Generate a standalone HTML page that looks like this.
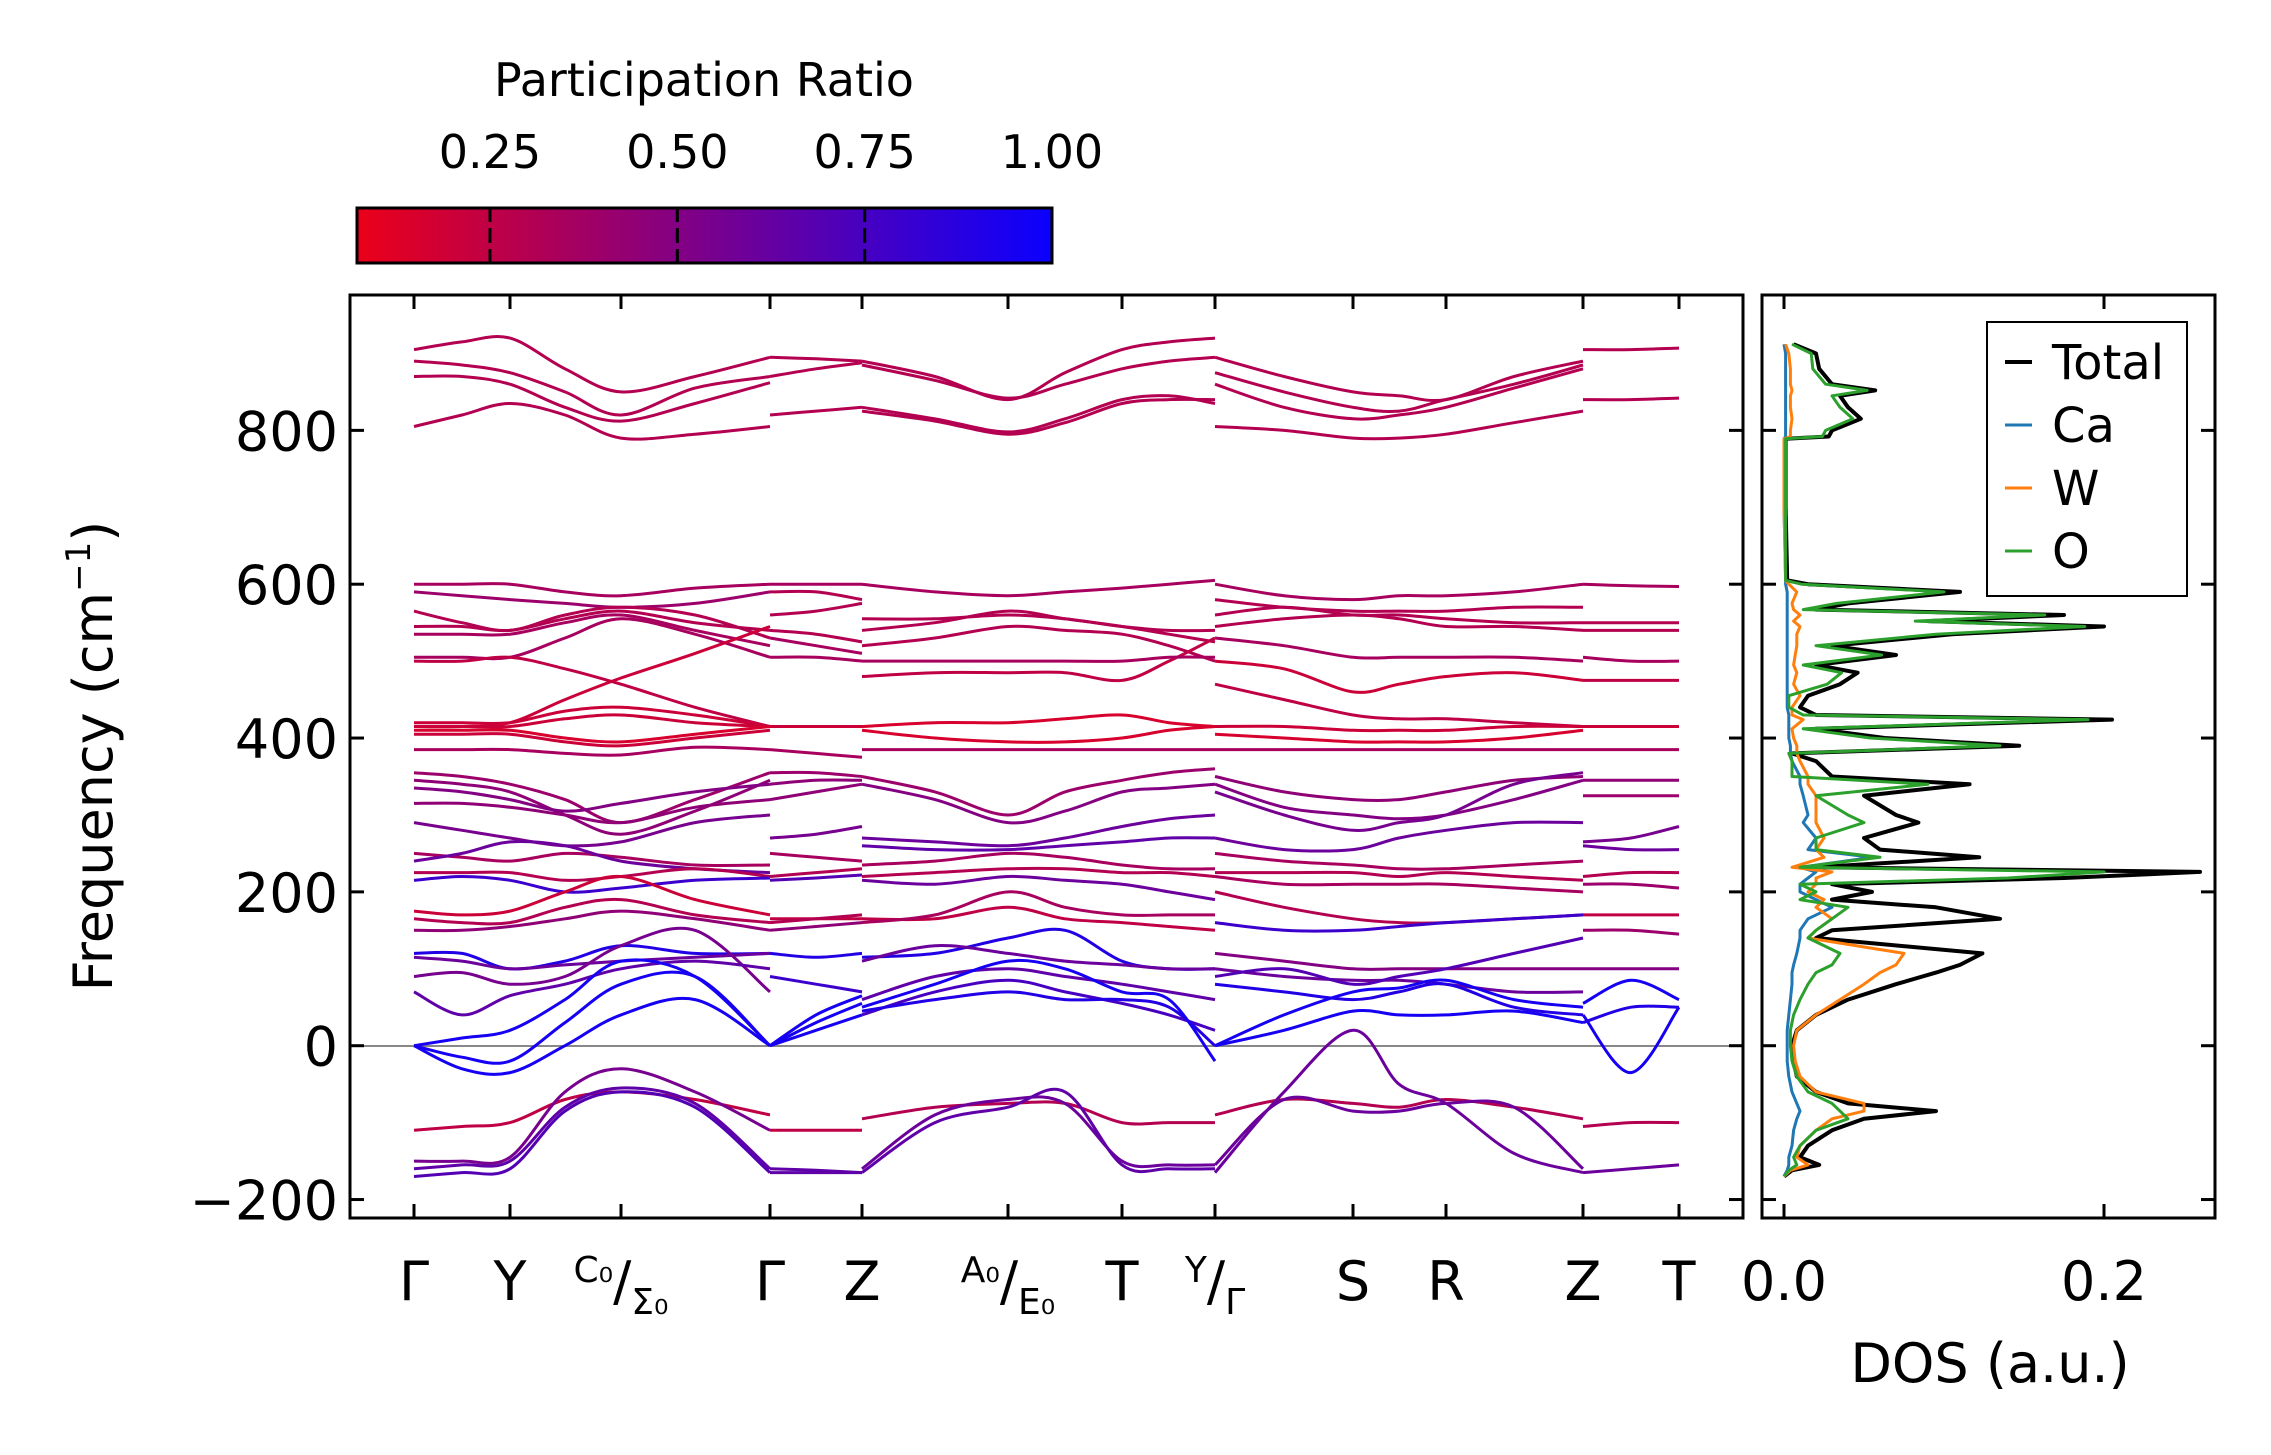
<!DOCTYPE html>
<html><head><meta charset="utf-8">
<style>
html,body{margin:0;padding:0;background:#fff;}
svg{display:block;font-family:"DejaVu Sans","Liberation Sans",sans-serif;}
</style></head>
<body>
<svg id="chart" width="2271" height="1455" viewBox="0 0 2271 1455" xmlns="http://www.w3.org/2000/svg">
  <defs>
    <linearGradient id="cbgrad" x1="0" x2="1" y1="0" y2="0">
      <stop offset="0" stop-color="rgb(235,0,25)"/>
      <stop offset="1" stop-color="rgb(10,0,255)"/>
    </linearGradient>
    <clipPath id="mainclip"><rect x="350" y="295" width="1393" height="923"/></clipPath>
    <clipPath id="dosclip"><rect x="1762" y="295" width="453" height="923"/></clipPath>
  </defs>
  <g id="colorbar">
    <text x="704" y="96" font-size="46" text-anchor="middle">Participation Ratio</text>
    <rect x="357" y="208" width="695" height="55" fill="url(#cbgrad)" stroke="#000" stroke-width="3"/>
    <g id="cbticks"></g>
  </g>
  <g id="main">
    <line x1="350" x2="1743" y1="1046" y2="1046" stroke="#888" stroke-width="2"/>
    <g id="bands" clip-path="url(#mainclip)"></g>
    <rect x="350" y="295" width="1393" height="923" fill="none" stroke="#000" stroke-width="3"/>
    <g id="mainticks"></g>
    <text transform="translate(112,756) rotate(-90)" font-size="54" text-anchor="middle">Frequency (cm<tspan font-size="34" dy="-22">−1</tspan><tspan dy="22">)</tspan></text>
  </g>
  <g id="dos">
    <g id="doslines" clip-path="url(#dosclip)"></g>
    <rect x="1762" y="295" width="453" height="923" fill="none" stroke="#000" stroke-width="3"/>
    <g id="dosticks"></g>
    <text x="1990" y="1382" font-size="54" text-anchor="middle">DOS (a.u.)</text>
    <g>
      <rect x="1987" y="322" width="200" height="274" fill="#fff" stroke="#000" stroke-width="2"/>
      <g id="legend"></g>
    </g>
  </g>
</svg>
<script>
// ---- axes ----
const yMin = -224, yMax = 976;
const kMin = -0.64, kMax = 13.29;
const yTicks = [-200, 0, 200, 400, 600, 800];
const yTickLabels = ["\u2212200", "0", "200", "400", "600", "800"];
const kTickPos = [0, 0.96, 2.07, 3.56, 4.48, 5.94, 7.08, 8.01, 9.39, 10.32, 11.69, 12.65];
const kTickLabels = [["Γ"], ["Y"], ["C₀","Σ₀"], ["Γ"], ["Z"], ["A₀","E₀"], ["T"], ["Y","Γ"], ["S"], ["R"], ["Z"], ["T"]];
const cbMin = 0.0725, cbMax = 1.0;
const cbTicks = [0.25, 0.5, 0.75, 1.0];
const cbTickLabels = ["0.25", "0.50", "0.75", "1.00"];
const dosTicks = [0, 0.2];
const dosTickLabels = ["0.0", "0.2"];

// ---- band data: sections of k-samples, each band = [participationRatio, freqs...] ----
const secA_k = [0, 0.48, 0.96, 1.51, 2.07, 2.81, 3.56];
const secA = [
 [0.3, 905,915,920,880,850,870,895],
 [0.3, 890,885,875,850,820,855,870],
 [0.3, 870,870,860,830,812,835,862],
 [0.3, 805,820,835,820,790,795,805],
 [0.35, 600,600,600,590,585,595,600],
 [0.4, 590,585,580,575,570,575,590],
 [0.3, 565,550,540,560,570,560,530],
 [0.3, 545,545,540,555,565,550,540],
 [0.35, 535,535,535,550,560,540,520],
 [0.35, 505,505,505,530,555,535,505],
 [0.25, 500,500,505,490,470,440,415],
 [0.2, 415,415,420,450,478,510,545],
 [0.2, 420,420,420,435,440,430,415],
 [0.2, 415,415,415,425,430,420,415],
 [0.15, 410,410,410,400,395,405,415],
 [0.2, 405,405,405,395,390,400,410],
 [0.35, 385,385,385,380,378,388,385],
 [0.4, 355,350,340,320,290,320,355],
 [0.45, 345,340,330,300,275,305,345],
 [0.5, 335,330,320,305,315,330,340],
 [0.45, 315,315,310,300,290,310,320],
 [0.55, 290,280,270,260,265,290,300],
 [0.35, 250,245,240,250,245,235,235],
 [0.6, 240,250,265,260,240,230,225],
 [0.3, 225,225,225,215,220,230,220],
 [0.8, 215,220,215,200,205,215,218],
 [0.2, 175,170,175,200,220,190,170],
 [0.3, 165,160,160,180,190,170,160],
 [0.45, 150,150,155,165,175,165,150],
 [0.9, 120,120,100,110,130,120,120],
 [0.6, 115,110,100,105,110,115,120],
 [0.55, 90,95,80,90,130,150,70],
 [0.65, 70,40,65,80,100,110,100],
 [0.95, 0,10,20,60,110,90,0],
 [0.95, 0,-15,-20,30,80,90,0],
 [0.95, 0,-30,-35,0,40,60,0],
 [0.25, -110,-105,-100,-70,-60,-70,-90],
 [0.55, -150,-150,-145,-60,-30,-60,-110],
 [0.65, -160,-155,-150,-80,-55,-75,-160],
 [0.7, -170,-165,-160,-85,-60,-80,-165]
];
const secB_k = [3.56, 4.02, 4.48];
const secB = [
 [0.3, 895,893,890],[0.3, 870,880,888],[0.3, 820,825,830],
 [0.35, 600,600,600],[0.3, 590,590,580],[0.3, 560,565,575],
 [0.3, 540,535,525],[0.35, 530,520,510],[0.35, 505,505,500],
 [0.2, 415,415,415],[0.35, 385,380,375],[0.4, 355,355,350],
 [0.45, 340,345,345],[0.45, 320,330,340],[0.55, 270,275,285],
 [0.35, 250,245,240],[0.3, 220,225,230],[0.7, 215,218,222],
 [0.25, 165,165,165],[0.3, 160,165,170],[0.45, 150,155,160],
 [0.9, 120,115,120],[0.8, 90,80,70],
 [0.95, 0,20,40],[0.95, 0,30,55],[0.95, 0,40,65],
 [0.25, -110,-110,-110],[0.65, -165,-165,-165],[0.65, -160,-162,-165]
];
const secC_k = [4.48, 5.21, 5.94, 6.51, 7.08, 7.55, 8.01];
const secC = [
 [0.3, 890,870,840,875,905,915,920],
 [0.3, 885,865,842,860,880,890,895],
 [0.3, 830,815,798,815,840,845,835],
 [0.3, 825,812,795,810,835,840,840],
 [0.35, 600,590,585,590,595,600,605],
 [0.3, 555,555,560,555,545,540,540],
 [0.3, 540,550,565,555,545,535,525],
 [0.3, 520,530,545,540,535,520,500],
 [0.25, 480,485,485,485,475,500,530],
 [0.35, 500,500,500,500,500,505,505],
 [0.15, 415,420,420,425,430,420,415],
 [0.15, 410,400,395,395,400,410,415],
 [0.35, 385,385,385,385,385,385,385],
 [0.4, 350,330,300,330,345,355,360],
 [0.5, 340,320,290,305,330,335,340],
 [0.6, 270,265,260,270,285,295,300],
 [0.65, 260,255,255,260,265,270,270],
 [0.35, 235,240,250,245,235,230,230],
 [0.3, 220,225,230,230,225,225,220],
 [0.6, 215,210,220,215,210,200,190],
 [0.25, 165,165,180,165,160,155,150],
 [0.35, 160,170,200,180,170,170,170],
 [0.9, 115,120,140,150,110,100,100],
 [0.6, 110,130,120,110,105,100,100],
 [0.65, 60,90,100,90,80,70,60],
 [0.75, 40,70,85,70,55,40,20],
 [0.9, 45,60,70,60,60,50,0],
 [0.95, 50,80,110,100,70,60,-20],
 [0.3, -95,-80,-75,-75,-100,-100,-100],
 [0.6, -160,-90,-70,-75,-150,-155,-155],
 [0.65, -165,-100,-80,-60,-155,-160,-160]
];
const secD_k = [8.01, 8.70, 9.39, 9.85, 10.32, 11.0, 11.69];
const secD = [
 [0.3, 895,870,850,845,840,870,890],
 [0.3, 875,850,830,825,840,860,885],
 [0.3, 860,830,815,820,830,855,880],
 [0.3, 805,800,790,790,795,810,825],
 [0.35, 600,585,580,585,585,590,600],
 [0.3, 580,570,565,565,565,570,570],
 [0.3, 560,570,560,560,555,550,550],
 [0.3, 545,555,560,555,545,545,540],
 [0.35, 530,520,505,505,505,505,500],
 [0.2, 500,490,460,470,480,485,475],
 [0.25, 470,450,430,425,425,420,415],
 [0.2, 415,415,410,410,410,415,415],
 [0.15, 405,400,395,395,395,400,410],
 [0.35, 385,385,385,385,385,385,385],
 [0.45, 350,330,320,320,330,345,350],
 [0.5, 340,310,300,295,300,320,345],
 [0.55, 330,300,280,290,300,340,355],
 [0.6, 270,255,255,270,280,290,290],
 [0.35, 250,240,235,230,230,235,240],
 [0.3, 225,225,225,220,225,220,215],
 [0.35, 220,210,210,210,210,205,200],
 [0.3, 200,180,165,160,160,165,170],
 [0.8, 160,150,150,155,160,165,170],
 [0.5, 120,110,100,100,100,100,100],
 [0.6, 100,90,85,85,80,70,70],
 [0.7, 90,100,80,90,100,120,140],
 [0.9, 80,70,60,70,80,50,40],
 [0.95, 0,40,70,75,85,60,50],
 [0.95, 0,20,45,40,40,45,30],
 [0.3, -90,-70,-75,-80,-70,-80,-95],
 [0.6, -155,-70,-85,-85,-75,-80,-160],
 [0.6, -165,-60,20,-50,-75,-140,-165]
];
const secE_k = [11.69, 12.17, 12.65];
const secE = [
 [0.3, 905,905,907],[0.3, 840,840,842],[0.35, 600,598,597],
 [0.3, 550,550,550],[0.3, 540,540,540],[0.35, 505,500,500],
 [0.25, 475,475,475],[0.2, 415,415,415],[0.35, 385,385,385],
 [0.45, 345,345,345],[0.4, 325,325,325],[0.55, 265,270,285],
 [0.6, 260,255,255],[0.3, 220,225,225],[0.4, 210,210,205],
 [0.25, 170,170,170],[0.4, 150,150,145],[0.5, 100,100,100],
 [0.95, 55,85,60],[0.95, 40,-35,50],[0.9, 30,50,50],
 [0.3, -105,-100,-100],[0.6, -165,-160,-155]
];

// ---- DOS data ----
const dosFreq = [912,900,880,860,852,845,830,815,800,792,789,700,605,600,590,575,567,560,552,545,535,520,508,495,485,470,455,440,430,424,412,400,390,380,370,350,340,325,300,290,270,255,245,232,226,218,210,200,190,180,165,150,140,120,105,95,80,60,40,20,0,-20,-40,-60,-75,-85,-95,-110,-130,-145,-155,-162,-170];
const dosTotal = [.006,.02,.022,.03,.057,.035,.04,.048,.03,.028,.001,.001,.002,.015,.11,.04,.02,.175,.09,.2,.105,.03,.07,.02,.046,.035,.015,.01,.02,.205,.02,.063,.147,.005,.02,.03,.116,.05,.07,.084,.05,.06,.122,.02,.26,.175,.03,.055,.03,.095,.135,.03,.02,.124,.11,.095,.07,.04,.02,.008,.005,.006,.008,.02,.04,.095,.05,.03,.015,.01,.022,.005,0];
const dosCa = [0,.001,.001,.001,.001,.001,.001,.001,.001,.001,0,0,.001,.001,.002,.002,.002,.002,.002,.002,.002,.002,.002,.002,.002,.002,.002,.002,.003,.003,.003,.003,.004,.004,.005,.01,.01,.012,.015,.012,.02,.015,.055,.01,.02,.015,.01,.01,.02,.03,.015,.01,.01,.008,.006,.005,.005,.004,.003,.002,.002,.002,.003,.005,.008,.01,.008,.006,.005,.003,.003,.002,0];
const dosW = [.001,.003,.004,.004,.005,.004,.004,.005,.004,.004,0,0,.001,.003,.008,.005,.006,.01,.006,.01,.008,.008,.007,.006,.008,.006,.01,.005,.005,.012,.005,.006,.008,.008,.01,.015,.015,.02,.02,.02,.025,.02,.025,.005,.03,.02,.02,.015,.025,.02,.03,.02,.015,.075,.07,.06,.05,.035,.02,.008,.006,.007,.01,.02,.05,.05,.03,.02,.01,.008,.015,.004,0];
const dosO = [.005,.017,.018,.026,.052,.03,.035,.043,.026,.024,.001,.001,.001,.011,.1,.033,.012,.163,.082,.188,.095,.02,.061,.012,.036,.027,.003,.003,.012,.19,.012,.054,.135,.003,.005,.005,.09,.02,.04,.05,.02,.02,.06,.01,.2,.14,.01,.02,.01,.04,.03,.02,.015,.035,.03,.02,.015,.01,.006,.004,.004,.005,.008,.015,.03,.035,.04,.02,.01,.006,.008,.003,0];
const legendNames = ["Total", "Ca", "W", "O"];
const legendColors = ["#000000", "#1f77b4", "#ff7f0e", "#2ca02c"];

// ---- scales ----
const PX = {l:350, r:1743, t:295, b:1218};
function yS(v){ return PX.b - (v - yMin) / (yMax - yMin) * (PX.b - PX.t); }
function kS(k){ return PX.l + (k - kMin) / (kMax - kMin) * (PX.r - PX.l); }
function cbS(v){ return 357 + (v - cbMin) / (cbMax - cbMin) * 695; }
function dS(v){ return 1784 + v * 1600; }
function prColor(p){
  const t = Math.max(0, Math.min(1, (p - cbMin) / (cbMax - cbMin)));
  const r = Math.round(235 + (10 - 235) * t), b = Math.round(25 + (255 - 25) * t);
  return `rgb(${r},0,${b})`;
}
const NS = "http://www.w3.org/2000/svg";
function mk(tag, attrs, parent){
  const e = document.createElementNS(NS, tag);
  for (const k in attrs) e.setAttribute(k, attrs[k]);
  parent.appendChild(e); return e;
}
function smoothPath(pts){
  let d = `M${pts[0][0].toFixed(1)},${pts[0][1].toFixed(1)}`;
  for (let i = 0; i < pts.length - 1; i++){
    const p0 = pts[Math.max(0,i-1)], p1 = pts[i], p2 = pts[i+1], p3 = pts[Math.min(pts.length-1,i+2)];
    const c1x = p1[0] + (p2[0]-p0[0])/6, c1y = p1[1] + (p2[1]-p0[1])/6;
    const c2x = p2[0] - (p3[0]-p1[0])/6, c2y = p2[1] - (p3[1]-p1[1])/6;
    d += ` C${c1x.toFixed(1)},${c1y.toFixed(1)} ${c2x.toFixed(1)},${c2y.toFixed(1)} ${p2[0].toFixed(1)},${p2[1].toFixed(1)}`;
  }
  return d;
}

// ---- bands ----
const gB = document.getElementById('bands');
[[secA_k, secA], [secB_k, secB], [secC_k, secC], [secD_k, secD], [secE_k, secE]].forEach(([ks, bands], si) => {
  bands.forEach((b, bi) => {
    const pts = ks.map((k, i) => [kS(k), yS(b[i+1])]);
    const p = mk('path', {d: smoothPath(pts), fill:'none', stroke: prColor(b[0]), 'stroke-width': 3}, gB);
    
    
  });
});

// ---- main ticks ----
const gT = document.getElementById('mainticks');
yTicks.forEach((v, i) => {
  const y = yS(v);
  const t1 = mk('line', {x1:PX.l, x2:PX.l+14, y1:y, y2:y, stroke:'#000', 'stroke-width':3}, gT);
  
  
  const t2 = mk('line', {x1:PX.r-14, x2:PX.r, y1:y, y2:y, stroke:'#000', 'stroke-width':3}, gT);
  
  
  const tx = mk('text', {x:PX.l-12, y:y+20, 'font-size':54, 'text-anchor':'end'}, gT);
  tx.textContent = yTickLabels[i];
  
  
});
kTickPos.forEach((k, i) => {
  const x = kS(k);
  const a = mk('line', {x1:x, x2:x, y1:PX.t, y2:PX.t+14, stroke:'#000', 'stroke-width':3}, gT);
  
  
  const b = mk('line', {x1:x, x2:x, y1:PX.b-14, y2:PX.b, stroke:'#000', 'stroke-width':3}, gT);
  
  
  const lab = kTickLabels[i];
  const tx = mk('text', {x:x, y:1300, 'font-size':54, 'text-anchor':'middle'}, gT);
  
  
  if (lab.length === 1){ tx.textContent = lab[0]; }
  else {
    const s1 = mk('tspan', {'font-size':36, dy:-18}, tx); s1.textContent = lab[0];
    const s2 = mk('tspan', {'font-size':54, dy:18}, tx); s2.textContent = '/';
    const s3 = mk('tspan', {'font-size':36, dy:14}, tx); s3.textContent = lab[1];
  }
});

// ---- colorbar ticks ----
const gC = document.getElementById('cbticks');
cbTicks.forEach((v, i) => {
  const x = cbS(v);
  if (v < cbMax){
    const l1 = mk('line', {x1:x, x2:x, y1:208, y2:222, stroke:'#000', 'stroke-width':3}, gC);
    
    
    const l2 = mk('line', {x1:x, x2:x, y1:228, y2:243, stroke:'#000', 'stroke-width':3}, gC);
    
    
    const l3 = mk('line', {x1:x, x2:x, y1:249, y2:263, stroke:'#000', 'stroke-width':3}, gC);
    
    
  }
  const tx = mk('text', {x:x, y:168, 'font-size':46, 'text-anchor':'middle'}, gC);
  tx.textContent = cbTickLabels[i];
  
  
});

// ---- DOS ----
const gD = document.getElementById('doslines');
[[dosTotal,'#000000',4],[dosCa,'#1f77b4',3],[dosW,'#ff7f0e',3],[dosO,'#2ca02c',3]].forEach(([arr, col, w], si) => {
  const pts = dosFreq.map((f, i) => `${dS(arr[i]).toFixed(1)},${yS(f).toFixed(1)}`).join(' ');
  const pl = mk('polyline', {points: pts, fill:'none', stroke: col, 'stroke-width': w, 'stroke-linejoin':'round'}, gD);
  
  
});
const gDT = document.getElementById('dosticks');
yTicks.forEach(v => {
  const y = yS(v);
  const a = mk('line', {x1:1762, x2:1776, y1:y, y2:y, stroke:'#000', 'stroke-width':3}, gDT);
  
  
  const b = mk('line', {x1:2201, x2:2215, y1:y, y2:y, stroke:'#000', 'stroke-width':3}, gDT);
  
  
});
dosTicks.forEach((v, i) => {
  const x = dS(v);
  const a = mk('line', {x1:x, x2:x, y1:PX.t, y2:PX.t+14, stroke:'#000', 'stroke-width':3}, gDT);
  
  
  const b = mk('line', {x1:x, x2:x, y1:PX.b-14, y2:PX.b, stroke:'#000', 'stroke-width':3}, gDT);
  
  
  const tx = mk('text', {x:x, y:1300, 'font-size':54, 'text-anchor':'middle'}, gDT);
  tx.textContent = dosTickLabels[i];
  
  
});
const gL = document.getElementById('legend');
legendNames.forEach((n, i) => {
  const y = 362 + i * 63;
  const l = mk('line', {x1:2005, x2:2032, y1:y, y2:y, stroke:legendColors[i], 'stroke-width': i===0?4:3}, gL);
  
  
  const t = mk('text', {x:2052, y:y+17, 'font-size':48}, gL);
  t.textContent = n;
  
  
});
</script>
</body></html>
